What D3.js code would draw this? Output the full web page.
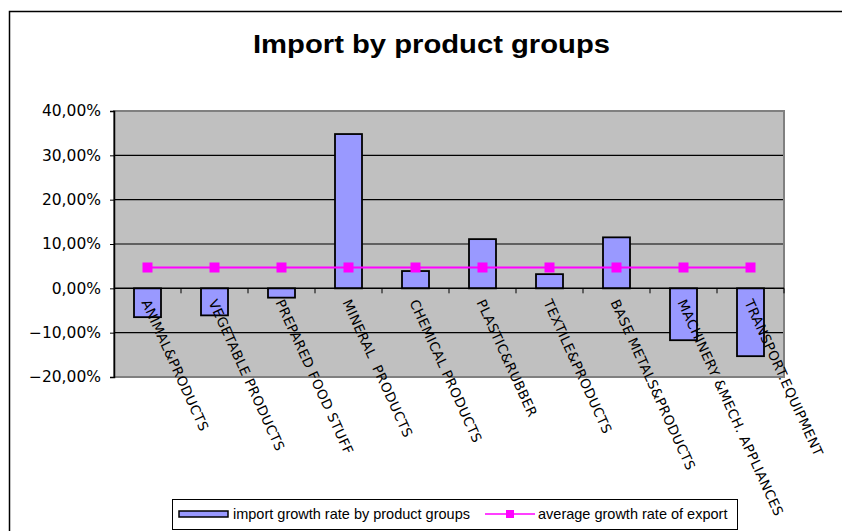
<!DOCTYPE html>
<html><head><meta charset="utf-8">
<script src="https://cdn.jsdelivr.net/npm/d3@7"></script>
<style>body{margin:0;background:#fff}svg{display:block}</style>
</head><body>
<svg id="c" width="842" height="531"></svg>
<script>
const categories = ["ANIMAL&PRODUCTS","VEGETABLE PRODUCTS","PREPARED FOOD STUFF","MINERAL  PRODUCTS","CHEMICAL PRODUCTS","PLASTIC&RUBBER","TEXTILE&PRODUCTS","BASE METALS&PRODUCTS","MACHINERY &MECH. APPLIANCES","TRANSPORT.EQUIPMENT"];
const importGrowth = [-6.5,-6.1,-2.1,34.8,3.9,11.1,3.2,11.5,-11.7,-15.3];
const avgExport = [4.7,4.7,4.7,4.7,4.7,4.7,4.7,4.7,4.7,4.7];
const yTicks = [40,30,20,10,0,-10,-20];
const title = "Import by product groups";
const legendLabels = ["import growth rate by product groups","average growth rate of export"];

const svg = d3.select("#c");
// outer frame
svg.append("path").attr("d","M9.5,531 V11.5 H842").attr("fill","none").attr("stroke","#000").attr("stroke-width",1.5);

svg.append("text").attr("x",253).attr("y",53)
  .attr("font-family","Liberation Sans, Arial, sans-serif").attr("font-weight","bold")
  .attr("font-size",25).attr("textLength",357).attr("lengthAdjust","spacingAndGlyphs").text(title);

const L=114, R=784, T=111, B=377;
const x = d3.scaleBand().domain(categories).range([L,R]);
const y = d3.scaleLinear().domain([-20,40]).range([B,T]);

svg.append("rect").attr("x",L).attr("y",T).attr("width",R-L).attr("height",B-T).attr("fill","#C0C0C0");
// gridlines
svg.append("g").selectAll("line").data(yTicks.filter(v=>v!==0 && v!==-20 && v!==40)).join("line")
  .attr("x1",L).attr("x2",R).attr("y1",d=>y(d)).attr("y2",d=>y(d)).attr("stroke","#000").attr("stroke-width",1.2);
// plot border
svg.append("rect").attr("x",L).attr("y",T).attr("width",R-L).attr("height",B-T).attr("fill","none").attr("stroke","#808080").attr("stroke-width",2);

// bars
const bw = 27;
svg.append("g").selectAll("rect").data(importGrowth).join("rect")
  .attr("x",(d,i)=>x(categories[i])+x.bandwidth()/2-bw/2)
  .attr("width",bw)
  .attr("y",d=>y(Math.max(0,d)))
  .attr("height",d=>Math.abs(y(d)-y(0)))
  .attr("fill","#9999FF").attr("stroke","#000").attr("stroke-width",1.8);

// y axis
const yAxis = d3.axisLeft(y).tickValues(yTicks).tickSize(4).tickFormat(d=>d3.format(".2f")(d).replace(".",",")+"%");
const ga = svg.append("g").attr("transform",`translate(${L},0)`).call(yAxis);
ga.select(".domain").attr("stroke","#000").attr("stroke-width",1.5);
ga.selectAll(".tick line").attr("stroke","#000");
ga.selectAll("text").attr("font-family","DejaVu Sans, Verdana, sans-serif").attr("font-size",15.5).attr("fill","#000").attr("dx",-6);

// x axis at zero
const xg = svg.append("g").attr("transform",`translate(0,${y(0)})`);
xg.append("line").attr("x1",L).attr("x2",R).attr("stroke","#000").attr("stroke-width",1.5);
xg.selectAll("line.t").data(d3.range(1,categories.length+1)).join("line").attr("class","t")
  .attr("x1",i=>L+i*x.step()).attr("x2",i=>L+i*x.step()).attr("y1",0).attr("y2",5).attr("stroke","#000");
xg.selectAll("text").data(categories).join("text")
  .attr("transform",d=>`translate(${x(d)+x.bandwidth()/2-2},12) rotate(65.5)`)
  .attr("font-family","DejaVu Sans, Verdana, sans-serif").attr("font-size",13.5)
  .attr("letter-spacing",0.4).style("white-space","pre")
  .attr("dy","0.35em").text(d=>d);

// line series
const line = d3.line().x((d,i)=>x(categories[i])+x.bandwidth()/2).y(d=>y(d));
svg.append("path").datum(avgExport).attr("d",line).attr("fill","none").attr("stroke","#FF00FF").attr("stroke-width",2);
svg.append("g").selectAll("rect").data(avgExport).join("rect")
  .attr("x",(d,i)=>x(categories[i])+x.bandwidth()/2-5).attr("y",d=>y(d)-5)
  .attr("width",10).attr("height",10).attr("fill","#FF00FF");

// legend
const lg = svg.append("g");
lg.append("rect").attr("x",172.5).attr("y",499.5).attr("width",565).attr("height",30).attr("fill","#fff").attr("stroke","#000");
lg.append("rect").attr("x",179).attr("y",511).attr("width",49).attr("height",6).attr("fill","#9999FF").attr("stroke","#000").attr("stroke-width",1.5);
lg.append("text").attr("x",233).attr("y",519).attr("font-family","Liberation Sans, Arial, sans-serif").attr("font-size",14.5).text(legendLabels[0]);
lg.append("line").attr("x1",485).attr("x2",535).attr("y1",514).attr("y2",514).attr("stroke","#FF00FF").attr("stroke-width",1.5);
lg.append("rect").attr("x",506).attr("y",510).attr("width",8).attr("height",8).attr("fill","#FF00FF");
lg.append("text").attr("x",538).attr("y",519).attr("font-family","Liberation Sans, Arial, sans-serif").attr("font-size",14.5).text(legendLabels[1]);
</script>
</body></html>
